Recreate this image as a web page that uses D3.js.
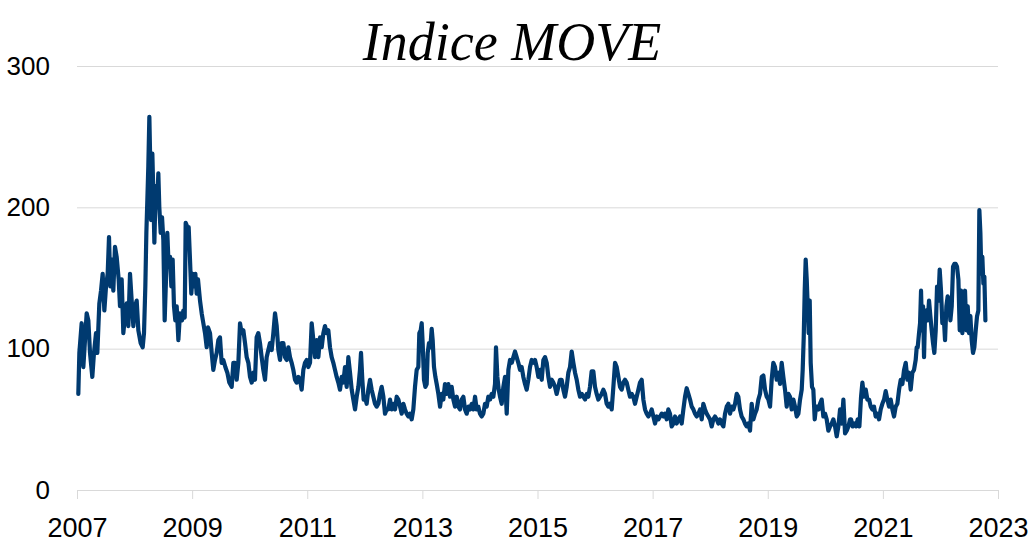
<!DOCTYPE html>
<html><head><meta charset="utf-8">
<script src="https://cdn.jsdelivr.net/npm/d3@7"></script>
<style>body{margin:0;background:#fff;} svg{display:block}</style>
</head><body><svg id="chart" width="1032" height="555"></svg>
<script>
const chartTitle = "Indice MOVE";
const xTicks = [2007, 2009, 2011, 2013, 2015, 2017, 2019, 2021, 2023];
const yTicks = [0, 100, 200, 300];
// [decimal year, index value]
const moveIndex = [
[2007.023,68],[2007.041,97],[2007.081,118],[2007.110,87],[2007.139,106],[2007.168,125],[2007.197,120],[2007.226,97],[2007.266,80],[2007.295,97],
[2007.330,111],[2007.353,97],[2007.388,132],[2007.417,141],[2007.446,153],[2007.475,127],[2007.504,144],[2007.533,153],[2007.556,179],[2007.579,144],
[2007.608,163],[2007.631,141],[2007.660,172],[2007.689,165],[2007.724,149],[2007.747,130],[2007.776,149],[2007.805,111],[2007.834,123],[2007.863,132],
[2007.892,116],[2007.921,153],[2007.950,134],[2007.979,116],[2008.008,130],[2008.037,134],[2008.066,113],[2008.106,104],[2008.141,101],[2008.164,111],
[2008.187,144],[2008.205,182],[2008.222,205],[2008.239,229],[2008.257,264],[2008.268,241],[2008.286,191],[2008.309,238],[2008.326,210],[2008.344,175],
[2008.367,215],[2008.390,200],[2008.413,224],[2008.430,200],[2008.454,182],[2008.477,193],[2008.500,177],[2008.523,120],[2008.546,149],[2008.569,182],
[2008.592,158],[2008.616,165],[2008.639,144],[2008.662,163],[2008.685,130],[2008.708,120],[2008.732,130],[2008.761,106],[2008.789,125],[2008.824,120],
[2008.847,127],[2008.871,122],[2008.888,189],[2008.917,186],[2008.940,186],[2008.963,163],[2008.986,139],[2009.010,153],[2009.033,144],[2009.056,153],
[2009.079,139],[2009.102,149],[2009.137,134],[2009.166,125],[2009.195,118],[2009.224,111],[2009.253,101],[2009.276,115],[2009.311,111],[2009.340,97],
[2009.368,85],[2009.397,92],[2009.426,97],[2009.455,106],[2009.484,108],[2009.513,90],[2009.542,92],[2009.577,87],[2009.612,83],[2009.646,76],
[2009.687,73],[2009.716,90],[2009.745,90],[2009.774,78],[2009.803,90],[2009.832,118],[2009.861,111],[2009.890,113],[2009.919,104],[2009.948,94],
[2009.977,90],[2010.006,80],[2010.035,76],[2010.064,83],[2010.092,78],[2010.121,108],[2010.150,111],[2010.179,104],[2010.208,94],[2010.237,85],
[2010.266,78],[2010.295,94],[2010.324,99],[2010.353,104],[2010.382,99],[2010.411,111],[2010.440,125],[2010.469,116],[2010.498,99],[2010.527,92],
[2010.556,104],[2010.585,104],[2010.614,94],[2010.643,92],[2010.672,101],[2010.700,94],[2010.729,90],[2010.758,85],[2010.787,78],[2010.816,76],
[2010.845,80],[2010.874,78],[2010.903,71],[2010.932,85],[2010.961,90],[2010.990,92],[2011.019,87],[2011.048,90],[2011.077,118],[2011.106,106],
[2011.135,94],[2011.164,106],[2011.193,94],[2011.222,108],[2011.251,101],[2011.280,111],[2011.308,116],[2011.337,111],[2011.366,113],[2011.395,101],
[2011.424,94],[2011.453,90],[2011.482,85],[2011.511,80],[2011.540,76],[2011.569,71],[2011.598,80],[2011.627,76],[2011.656,87],[2011.685,73],
[2011.714,94],[2011.743,83],[2011.772,71],[2011.801,64],[2011.830,57],[2011.859,66],[2011.888,73],[2011.916,85],[2011.934,97],[2011.957,78],
[2011.980,64],[2012.003,66],[2012.032,61],[2012.061,71],[2012.090,78],[2012.119,71],[2012.148,66],[2012.177,61],[2012.206,59],[2012.235,61],
[2012.264,68],[2012.293,73],[2012.322,66],[2012.351,54],[2012.380,57],[2012.409,57],[2012.438,64],[2012.467,57],[2012.496,61],[2012.525,57],
[2012.554,66],[2012.583,64],[2012.612,59],[2012.641,54],[2012.670,61],[2012.698,57],[2012.727,54],[2012.756,52],[2012.785,54],[2012.814,50],
[2012.843,57],[2012.872,73],[2012.901,85],[2012.930,87],[2012.947,111],[2012.971,113],[2012.988,118],[2013.005,104],[2013.028,78],[2013.052,73],
[2013.075,75],[2013.092,97],[2013.115,104],[2013.139,101],[2013.162,114],[2013.179,106],[2013.202,87],[2013.226,80],[2013.249,75],[2013.278,68],
[2013.307,59],[2013.336,68],[2013.364,64],[2013.393,75],[2013.422,68],[2013.451,75],[2013.480,66],[2013.509,73],[2013.538,64],[2013.567,59],
[2013.596,66],[2013.625,59],[2013.654,57],[2013.683,64],[2013.712,66],[2013.741,57],[2013.770,54],[2013.799,59],[2013.828,57],[2013.857,61],
[2013.886,57],[2013.915,66],[2013.944,57],[2013.972,59],[2014.001,54],[2014.030,52],[2014.059,54],[2014.088,61],[2014.117,59],[2014.146,66],
[2014.175,64],[2014.204,68],[2014.233,66],[2014.262,75],[2014.279,101],[2014.303,80],[2014.326,71],[2014.349,66],[2014.378,61],[2014.407,73],
[2014.436,80],[2014.465,54],[2014.494,85],[2014.523,92],[2014.552,90],[2014.581,94],[2014.609,98],[2014.638,94],[2014.667,90],[2014.696,85],
[2014.725,87],[2014.754,80],[2014.783,75],[2014.812,71],[2014.841,78],[2014.870,87],[2014.899,92],[2014.928,90],[2014.957,92],[2014.986,87],
[2015.015,80],[2015.044,85],[2015.073,78],[2015.102,92],[2015.131,94],[2015.160,90],[2015.189,80],[2015.218,73],[2015.247,78],[2015.275,76],
[2015.304,73],[2015.333,68],[2015.362,73],[2015.391,78],[2015.420,78],[2015.449,71],[2015.478,66],[2015.507,73],[2015.536,83],[2015.565,87],
[2015.594,98],[2015.623,90],[2015.652,83],[2015.681,78],[2015.710,71],[2015.739,66],[2015.768,68],[2015.797,66],[2015.826,64],[2015.855,68],
[2015.883,66],[2015.912,73],[2015.941,84],[2015.970,84],[2015.999,73],[2016.028,68],[2016.057,64],[2016.086,66],[2016.115,68],[2016.144,71],
[2016.173,68],[2016.202,61],[2016.231,59],[2016.260,61],[2016.289,57],[2016.318,73],[2016.347,90],[2016.376,87],[2016.405,80],[2016.434,73],
[2016.463,71],[2016.491,76],[2016.520,78],[2016.549,76],[2016.578,71],[2016.607,66],[2016.636,68],[2016.665,66],[2016.694,61],[2016.723,66],
[2016.752,71],[2016.781,76],[2016.810,78],[2016.839,64],[2016.868,57],[2016.897,54],[2016.926,52],[2016.955,54],[2016.984,57],[2017.013,52],
[2017.042,47],[2017.071,52],[2017.100,50],[2017.129,52],[2017.158,54],[2017.187,52],[2017.216,54],[2017.245,50],[2017.273,57],[2017.302,54],
[2017.331,45],[2017.360,47],[2017.389,52],[2017.418,47],[2017.447,50],[2017.476,52],[2017.505,47],[2017.534,57],[2017.563,66],[2017.592,72],
[2017.621,68],[2017.650,64],[2017.679,59],[2017.708,57],[2017.737,54],[2017.766,52],[2017.795,54],[2017.824,57],[2017.853,50],[2017.881,61],
[2017.910,57],[2017.939,54],[2017.968,52],[2017.997,50],[2018.026,45],[2018.055,50],[2018.084,52],[2018.113,50],[2018.142,47],[2018.171,50],
[2018.200,47],[2018.229,45],[2018.258,54],[2018.287,59],[2018.316,61],[2018.345,54],[2018.374,59],[2018.403,57],[2018.432,61],[2018.461,68],
[2018.489,66],[2018.518,57],[2018.547,52],[2018.576,50],[2018.605,47],[2018.634,45],[2018.663,47],[2018.692,42],[2018.721,61],[2018.750,50],
[2018.779,54],[2018.808,57],[2018.837,64],[2018.866,68],[2018.895,80],[2018.924,81],[2018.953,71],[2018.982,66],[2019.011,64],[2019.040,59],
[2019.068,78],[2019.097,90],[2019.126,87],[2019.155,78],[2019.184,83],[2019.213,75],[2019.242,90],[2019.271,80],[2019.300,71],[2019.329,59],
[2019.358,68],[2019.387,66],[2019.416,57],[2019.445,64],[2019.474,59],[2019.503,52],[2019.532,54],[2019.561,64],[2019.590,71],[2019.607,85],
[2019.625,108],[2019.642,141],[2019.659,163],[2019.677,149],[2019.694,130],[2019.711,111],[2019.729,134],[2019.746,90],[2019.769,73],[2019.792,71],
[2019.816,50],[2019.839,59],[2019.862,59],[2019.885,57],[2019.908,61],[2019.937,64],[2019.966,52],[2019.995,54],[2020.024,50],[2020.053,42],
[2020.082,45],[2020.111,47],[2020.140,50],[2020.169,45],[2020.198,38],[2020.227,45],[2020.256,57],[2020.285,47],[2020.314,64],[2020.343,40],
[2020.372,42],[2020.401,45],[2020.430,50],[2020.447,50],[2020.476,45],[2020.505,47],[2020.534,45],[2020.563,50],[2020.592,45],[2020.621,66],
[2020.644,76],[2020.673,66],[2020.702,71],[2020.731,64],[2020.760,64],[2020.789,59],[2020.817,57],[2020.846,59],[2020.875,52],[2020.904,54],
[2020.933,50],[2020.962,57],[2020.991,61],[2021.020,64],[2021.049,70],[2021.078,64],[2021.107,59],[2021.136,64],[2021.165,57],[2021.194,52],
[2021.223,59],[2021.252,61],[2021.281,71],[2021.310,78],[2021.339,75],[2021.368,85],[2021.397,90],[2021.426,78],[2021.455,83],[2021.483,71],
[2021.512,83],[2021.541,85],[2021.570,92],[2021.588,101],[2021.605,101],[2021.628,111],[2021.646,118],[2021.663,141],[2021.680,113],[2021.698,130],
[2021.715,94],[2021.732,123],[2021.756,127],[2021.779,120],[2021.802,134],[2021.825,123],[2021.848,113],[2021.871,104],[2021.894,97],[2021.918,113],
[2021.941,144],[2021.964,134],[2021.987,156],[2022.010,141],[2022.033,118],[2022.057,123],[2022.080,106],[2022.103,130],[2022.126,137],[2022.149,134],
[2022.173,120],[2022.196,130],[2022.219,158],[2022.242,160],[2022.265,160],[2022.288,158],[2022.312,149],[2022.335,113],[2022.358,141],[2022.381,111],
[2022.404,132],[2022.427,141],[2022.450,113],[2022.474,130],[2022.497,111],[2022.520,123],[2022.543,106],[2022.566,97],[2022.589,101],[2022.613,113],
[2022.636,123],[2022.659,127],[2022.676,198],[2022.694,182],[2022.711,153],[2022.728,165],[2022.746,146],[2022.763,151],[2022.781,120]
];

(function () {
  const svg = d3.select("#chart");
  const mLeft = 77, mRight = 998, mBottom = 490, mTop = 66;
  const x = d3.scaleLinear().domain([2007, 2023]).range([mLeft, mRight]);
  const y = d3.scaleLinear().domain([0, 300]).range([mBottom, mTop]);
  const labelFont = "'Liberation Sans', Arial, Helvetica, sans-serif";

  // y gridlines + labels
  const yAxis = svg.append("g").attr("transform", `translate(${mLeft},0)`)
    .call(d3.axisLeft(y).tickValues(yTicks).tickFormat(d3.format("d"))
      .tickSize(-(mRight - mLeft)).tickPadding(27));
  yAxis.select(".domain").remove();
  yAxis.selectAll(".tick line").attr("stroke", "#d9d9d9").attr("stroke-width", 1);
  yAxis.selectAll(".tick text").attr("font-family", labelFont).attr("font-size", 26).attr("fill", "#000");

  // x axis
  const xAxis = svg.append("g").attr("transform", `translate(0,${mBottom})`)
    .call(d3.axisBottom(x).tickValues(xTicks).tickFormat(d3.format("d"))
      .tickSizeInner(9).tickSizeOuter(0).tickPadding(19));
  xAxis.select(".domain").attr("stroke", "#d9d9d9");
  xAxis.selectAll(".tick line").attr("stroke", "#d9d9d9");
  xAxis.selectAll(".tick text").attr("font-family", labelFont).attr("font-size", 27).attr("fill", "#000");

  // line
  const line = d3.line().x(d => x(d[0])).y(d => y(d[1]));
  svg.append("path").datum(moveIndex)
    .attr("d", line).attr("fill", "none")
    .attr("stroke", "#003a70").attr("stroke-width", 4.2)
    .attr("stroke-linejoin", "round").attr("stroke-linecap", "round");

  // title
  svg.append("text").attr("x", 512).attr("y", 60).attr("text-anchor", "middle")
    .attr("font-family", "'Liberation Serif', 'Times New Roman', serif")
    .attr("font-style", "italic").attr("font-size", 54).attr("fill", "#000")
    .text(chartTitle);
})();
</script></body></html>
